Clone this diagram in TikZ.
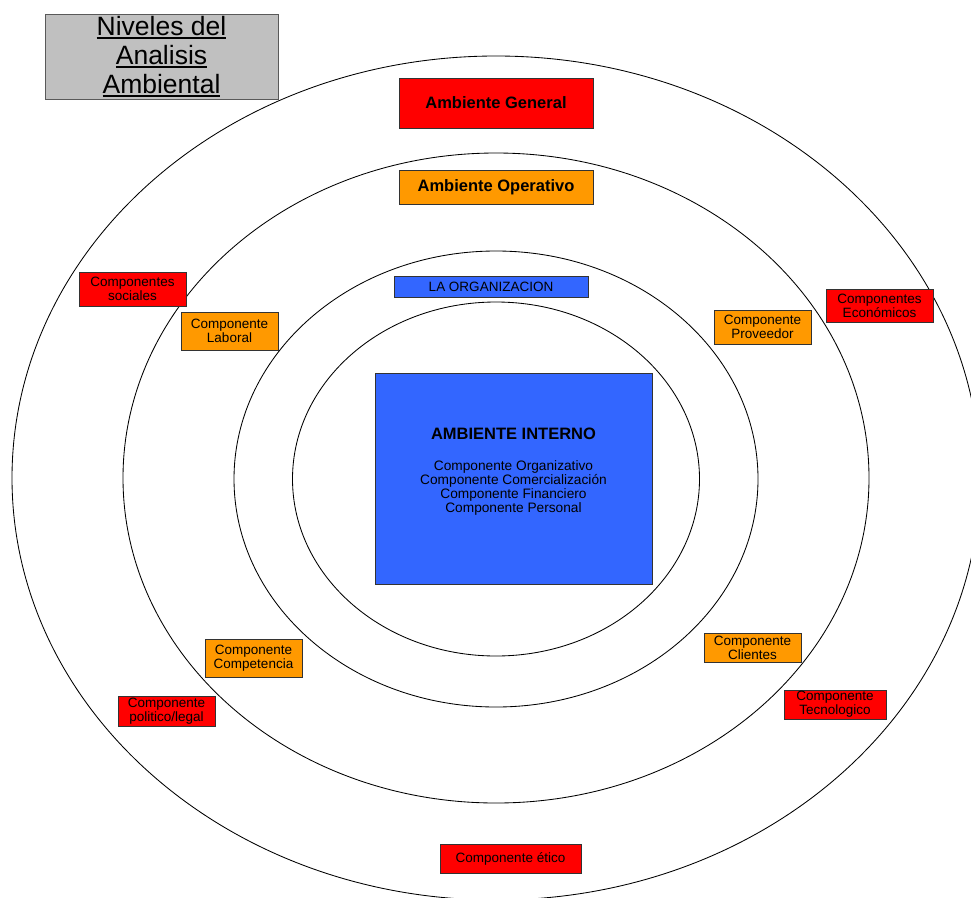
\documentclass[tikz,border=0pt]{standalone}
\usepackage{fontspec}
\setmainfont{Liberation Sans}
\newcommand{\myul}[1]{\setbox0\hbox{#1}\rlap{\rule[-3.2pt]{\wd0}{1.3pt}}\box0}
\definecolor{boxred}{HTML}{FF0000}
\definecolor{boxorange}{HTML}{FF9900}
\definecolor{boxblue}{HTML}{3366FF}
\definecolor{boxgray}{HTML}{C0C0C0}
\begin{document}
\begin{tikzpicture}[x=1pt,y=-1pt,
  ring/.style={draw=black, line width=0.85pt},
  box/.style={rectangle, draw=black!80, line width=0.9pt, inner sep=0pt, align=center},
  smallbox/.style={box, font=\fontsize{13.5}{14}\selectfont},
  redbox/.style={smallbox, fill=boxred},
  orangebox/.style={smallbox, fill=boxorange},
  bigbold/.style={font=\fontsize{16.5}{18}\selectfont\bfseries}
]
\useasboundingbox (0,0) rectangle (971,897);
\clip (0,0) rectangle (971,897);
\fill[white] (0,0) rectangle (971,897);

% rings
\draw[ring] (496,478) ellipse [x radius=484pt, y radius=422pt];
\draw[ring] (496,478) ellipse [x radius=373pt, y radius=325pt];
\draw[ring] (496,479) ellipse [x radius=262pt, y radius=228pt];
\draw[ring] (496,479) ellipse [x radius=203.5pt, y radius=177pt];

% title
\node[box, fill=boxgray, draw=black!65, minimum width=233pt, minimum height=85pt,
      font=\fontsize{26.5}{29}\selectfont] (title) at (161.5,56.5)
  {\myul{Niveles del}\\\myul{Analisis}\\\myul{Ambiental}};

% level boxes
\node[box, fill=boxred, minimum width=194pt, minimum height=50pt, bigbold] (general) at (496,103) {Ambiente General};
\node[box, fill=boxorange, minimum width=194pt, minimum height=34pt, bigbold] (operativo) at (496,187) {Ambiente Operativo};
\node[box, fill=boxblue, minimum width=194pt, minimum height=21pt, font=\fontsize{13.5}{14}\selectfont] (organizacion) at (491,286.5) {LA ORGANIZACION};

% internal environment
\node[box, fill=boxblue, minimum width=277pt, minimum height=211pt] (interno) at (513.5,478.5) {};
\node[bigbold, inner sep=0pt] (internotitle) at (513.5,434.3) {AMBIENTE INTERNO};
\node[font=\fontsize{13.7}{13.8}\selectfont, align=center, inner sep=0pt] (internolist) at (513.5,488)
  {Componente Organizativo\\Componente Comercialización\\Componente Financiero\\Componente Personal};

% general components (red)
\node[redbox, minimum width=107pt, minimum height=34pt] (sociales) at (132.5,289) {Componentes\\sociales};
\node[redbox, minimum width=107pt, minimum height=33pt] (economicos) at (879.5,305.5) {Componentes\\Económicos};
\node[redbox, minimum width=97pt, minimum height=30pt] (politico) at (166.5,711) {Componente\\politico/legal};
\node[redbox, minimum width=102pt, minimum height=29pt] (tecnologico) at (835,704.5) {Componente\\Tecnologico};
\node[redbox, minimum width=141pt, minimum height=29pt] (etico) at (510.5,858.5) {Componente ético};

% operative components (orange)
\node[orangebox, minimum width=97pt, minimum height=38pt] (laboral) at (229.5,331) {Componente\\Laboral};
\node[orangebox, minimum width=97pt, minimum height=34pt] (proveedor) at (762.5,327) {Componente\\Proveedor};
\node[orangebox, minimum width=97pt, minimum height=38pt] (competencia) at (253.5,658) {Componente\\Competencia};
\node[orangebox, minimum width=97pt, minimum height=29pt] (clientes) at (752.5,647.5) {Componente\\Clientes};
\end{tikzpicture}
\end{document}
